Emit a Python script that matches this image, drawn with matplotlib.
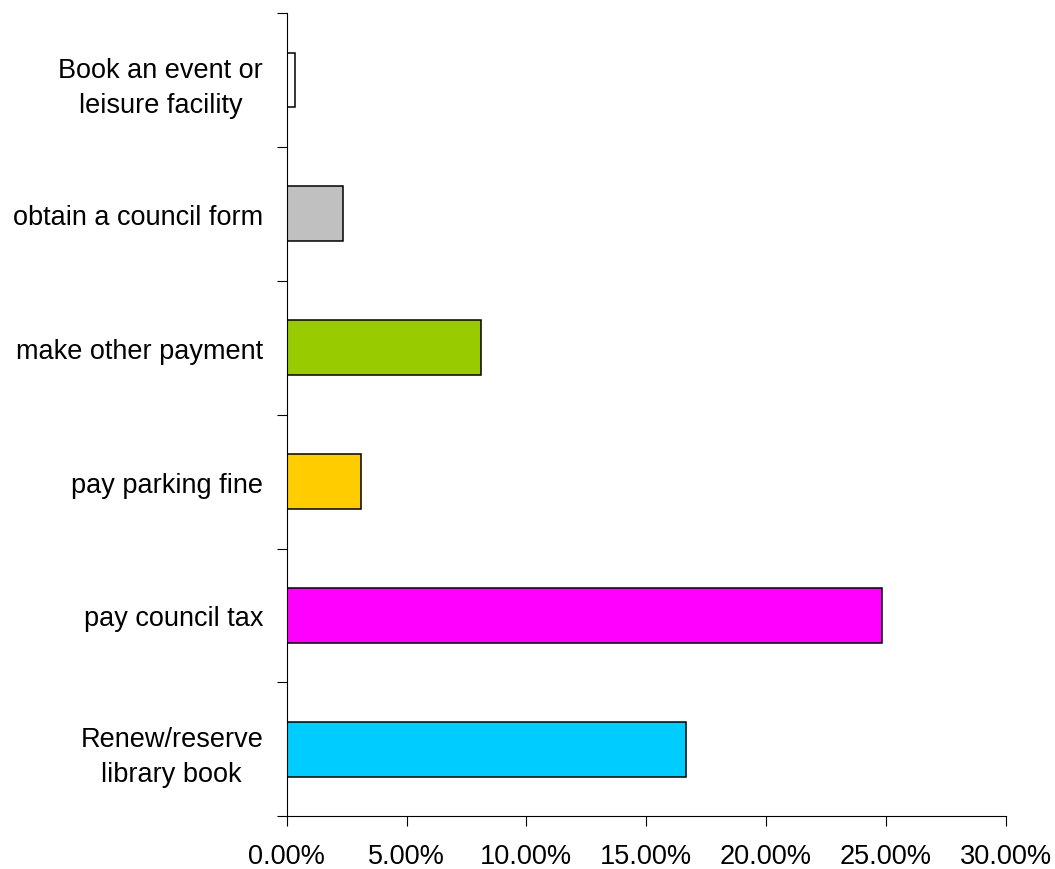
import matplotlib.pyplot as plt
import numpy as np
from matplotlib.ticker import FuncFormatter

plt.rcParams['font.family'] = ['Liberation Sans', 'DejaVu Sans']

# bottom to top
categories = ['Renew/reserve\nlibrary book', 'pay council tax', 'pay parking fine',
              'make other payment', 'obtain a council form',
              'Book an event or\nleisure facility']
shares = [16.65, 24.84, 3.09, 8.11, 2.34, 0.35]
colours = ['#00CCFF', '#FF00FF', '#FFCC00', '#99CC00', '#C0C0C0', '#FFFFFF']
xticks = [0, 5, 10, 15, 20, 25, 30]

fig = plt.figure(figsize=(10.55, 8.7), dpi=100)
ax = fig.add_axes([0.2718, 0.0606, 0.6815, 0.9233])

y = np.arange(len(categories))
ax.barh(y, shares, height=0.41, color=colours, edgecolor='black', linewidth=1.1)

ax.set_xlim(0, 30)
ax.set_ylim(-0.5, len(categories) - 0.5)

ax.set_xticks(xticks)
ax.xaxis.set_major_formatter(FuncFormatter(lambda v, p: '%.2f%%' % v))
ax.tick_params(axis='x', direction='out', length=7, width=0.8, pad=12,
               labelsize=19.5)

# labels at the bar centres, tick marks between categories
ax.set_yticks(y)
ax.set_yticklabels(categories, multialignment='center', linespacing=1.43)
ax.set_yticks(np.arange(len(categories) + 1) - 0.5, minor=True)
ax.tick_params(axis='y', which='major', length=0, pad=17, labelsize=19.5)
ax.tick_params(axis='y', which='minor', direction='out', length=7, width=0.8)

for side in ['top', 'right']:
    ax.spines[side].set_visible(False)
for side in ['left', 'bottom']:
    ax.spines[side].set_linewidth(0.8)

fig.savefig('out.png', dpi=100, facecolor='white')
